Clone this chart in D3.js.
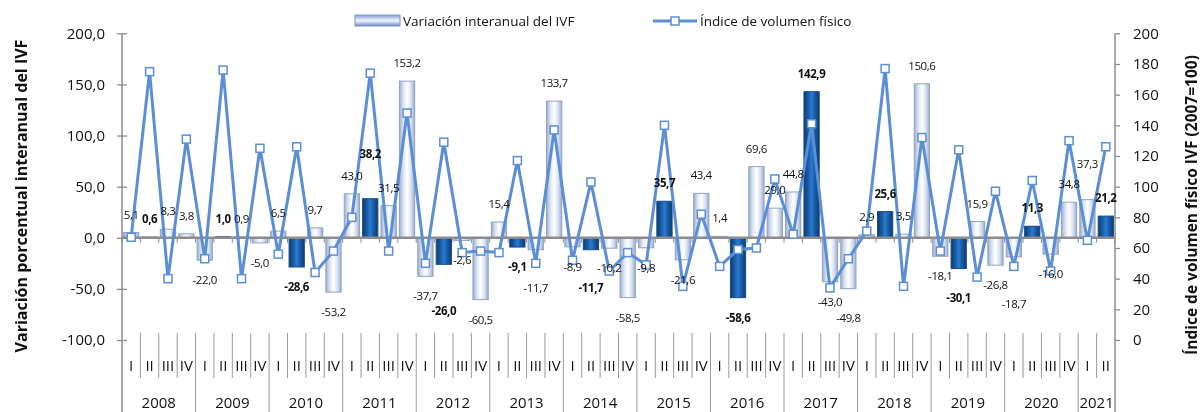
<!DOCTYPE html>
<html>
<head>
<meta charset="utf-8">
<script src="https://cdn.jsdelivr.net/npm/d3@7"></script>
<style>
  body { margin: 0; background: #fff; }
  svg { display: block; font-family: "Open Sans", sans-serif; opacity: 0.999; will-change: transform; }
</style>
</head>
<body>
<svg id="chart" width="1201" height="412"></svg>
<script>
const years = ['2008', '2009', '2010', '2011', '2012', '2013', '2014', '2015', '2016', '2017', '2018', '2019', '2020', '2021'];
const quarters = ['I', 'II', 'III', 'IV'];

// Variación interanual del IVF (%), 2008-I .. 2021-II
const variacion = [
  5.1, 0.6, 8.3, 3.8,
  -22.0, 1.0, 0.9, -5.0,
  6.5, -28.6, 9.7, -53.2,
  43.0, 38.2, 31.5, 153.2,
  -37.7, -26.0, -2.6, -60.5,
  15.4, -9.1, -11.7, 133.7,
  -8.9, -11.7, -10.2, -58.5,
  -9.8, 35.7, -21.6, 43.4,
  1.4, -58.6, 69.6, 29.0,
  44.8, 142.9, -43.0, -49.8,
  2.9, 25.6, 3.5, 150.6,
  -18.1, -30.1, 15.9, -26.8,
  -18.7, 11.3, -16.0, 34.8,
  37.3, 21.2
];

// Índice de volumen físico (2007=100)
const indice = [
  67, 175, 40, 131,
  53, 176, 40, 125,
  56, 126, 44, 58,
  80, 174, 58, 148,
  50, 129, 57, 58,
  57, 117, 50, 137,
  52, 103, 45, 57,
  49, 140, 35, 82,
  48, 59, 60, 105,
  69, 141, 34, 53,
  71, 177, 35, 132,
  58, 124, 41, 97,
  48, 104, 45, 130,
  65, 126
];

const leftTicks = [-100, -50, 0, 50, 100, 150, 200];
const rightTicks = [0, 20, 40, 60, 80, 100, 120, 140, 160, 180, 200];

const labels = variacion.map((v, i) => ({
  v, i,
  year: years[Math.floor(i / 4)],
  q: quarters[i % 4]
}));

const svg = d3.select('#chart');
const plotLeft = 122, plotRight = 1115, plotTop = 33.3, plotBottom = 340;

const locale = d3.formatLocale({ decimal: ',', thousands: '.', grouping: [3], currency: ['', ''], minus: '-' });
const fmt1 = locale.format('.1f');

const x = d3.scaleBand()
  .domain(d3.range(labels.length))
  .range([plotLeft, plotRight])
  .paddingInner(0.17)
  .paddingOuter(0.085);
const step = x.step();

const yLeft = d3.scaleLinear().domain([-100, 200]).range([plotBottom, plotTop]);
const yRight = d3.scaleLinear().domain([0, 200]).range([plotBottom, plotTop]);

const lineColor = '#5a8ed6';
const axisGray = '#8c8c8c';

// gradients for the bars
const defs = svg.append('defs');
function hGrad(id, stops, vertical) {
  const g = defs.append('linearGradient').attr('id', id)
    .attr('x1', '0%').attr('y1', '0%')
    .attr('x2', vertical ? '0%' : '100%').attr('y2', vertical ? '100%' : '0%');
  stops.forEach(s => g.append('stop').attr('offset', s[0]).attr('stop-color', s[1]));
}
hGrad('light', [['0%', '#9aacd0'], ['25%', '#dce3f0'], ['50%', '#ffffff'], ['75%', '#dce3f0'], ['100%', '#9aacd0']]);
hGrad('dark', [['0%', '#0f3a70'], ['30%', '#195ea9'], ['50%', '#2a7bd0'], ['70%', '#195ea9'], ['100%', '#0f3a70']]);
hGrad('legendBar', [['0%', '#7d9bd3'], ['45%', '#e9eef8'], ['55%', '#e9eef8'], ['100%', '#6f8fcb']], true);

// bars
svg.append('g')
  .selectAll('rect')
  .data(labels)
  .join('rect')
  .attr('x', d => x(d.i))
  .attr('width', x.bandwidth())
  .attr('y', d => yLeft(Math.max(0, d.v)))
  .attr('height', d => Math.abs(yLeft(d.v) - yLeft(0)))
  .attr('fill', d => d.i % 4 === 1 ? 'url(#dark)' : 'url(#light)')
  .attr('stroke', d => d.i % 4 === 1 ? '#1a4c8a' : '#8fa2c9')
  .attr('stroke-width', 1);

// zero line with small ticks at category boundaries
const y0 = yLeft(0);
svg.append('line')
  .attr('x1', plotLeft).attr('x2', plotRight)
  .attr('y1', y0).attr('y2', y0)
  .attr('stroke', axisGray).attr('stroke-width', 2.5);
svg.append('g')
  .selectAll('line')
  .data(d3.range(labels.length + 1))
  .join('line')
  .attr('x1', k => plotLeft + k * step).attr('x2', k => plotLeft + k * step)
  .attr('y1', y0).attr('y2', y0 + 5)
  .attr('stroke', axisGray).attr('stroke-width', 1);

// left axis
const leftAxis = svg.append('g')
  .attr('transform', `translate(${plotLeft},0)`)
  .call(d3.axisLeft(yLeft).tickValues(leftTicks).tickSize(5).tickPadding(12).tickFormat(fmt1));
leftAxis.select('.domain').remove();
leftAxis.selectAll('.tick line').attr('x2', 5).attr('x1', -5).attr('stroke', axisGray).attr('stroke-width', 1.3);
leftAxis.selectAll('.tick text').attr('font-size', 15).attr('fill', '#111').attr('font-family', 'Open Sans');

// right axis
const rightAxis = svg.append('g')
  .attr('transform', `translate(${plotRight},0)`)
  .call(d3.axisRight(yRight).tickValues(rightTicks).tickSize(5).tickPadding(13));
rightAxis.select('.domain').remove();
rightAxis.selectAll('.tick line').attr('stroke', axisGray).attr('stroke-width', 1.3);
rightAxis.selectAll('.tick text').attr('font-size', 15).attr('fill', '#111').attr('font-family', 'Open Sans');

// axis lines running down through the category area
[plotLeft, plotRight].forEach(px => {
  svg.append('line')
    .attr('x1', px).attr('x2', px)
    .attr('y1', plotTop).attr('y2', 412)
    .attr('stroke', axisGray).attr('stroke-width', 1.5);
});

// category area: quarter and year separators
const sepTop = 333, quarterSepBottom = 378;
svg.append('g')
  .selectAll('line')
  .data(d3.range(1, labels.length))
  .join('line')
  .attr('x1', k => plotLeft + k * step).attr('x2', k => plotLeft + k * step)
  .attr('y1', sepTop)
  .attr('y2', k => k % 4 === 0 ? 412 : quarterSepBottom)
  .attr('stroke', '#9a9a9a').attr('stroke-width', 1);

svg.append('g')
  .selectAll('text')
  .data(labels)
  .join('text')
  .attr('x', d => x(d.i) + x.bandwidth() / 2)
  .attr('y', 366)
  .attr('dy', '0.35em')
  .attr('text-anchor', 'middle')
  .attr('font-size', 15)
  .attr('fill', '#111')
  .text(d => d.q);

svg.append('g')
  .selectAll('text')
  .data(years)
  .join('text')
  .attr('x', (yr, j) => {
    const first = j * 4;
    const last = Math.min(first + 3, labels.length - 1);
    return (plotLeft + first * step + plotLeft + (last + 1) * step) / 2;
  })
  .attr('y', 403)
  .attr('dy', '0.35em')
  .attr('text-anchor', 'middle')
  .attr('font-size', 15)
  .attr('fill', '#111')
  .text(d => d);

// line series on right axis
const cx = i => x(i) + x.bandwidth() / 2;
svg.append('path')
  .datum(indice)
  .attr('fill', 'none')
  .attr('stroke', lineColor)
  .attr('stroke-width', 3)
  .attr('stroke-linejoin', 'round')
  .attr('d', d3.line().x((d, i) => cx(i)).y(d => yRight(d)));

svg.append('g')
  .selectAll('rect')
  .data(indice)
  .join('rect')
  .attr('x', (d, i) => cx(i) - 4)
  .attr('y', d => yRight(d) - 4)
  .attr('width', 8).attr('height', 8)
  .attr('fill', '#fff')
  .attr('stroke', lineColor)
  .attr('stroke-width', 1.5);

// data labels
const dataLabels = svg.append('g')
  .selectAll('text')
  .data(labels)
  .join('text')
  .attr('x', d => cx(d.i))
  .attr('y', d => d.v >= 0 ? yLeft(d.v) - 18 : yLeft(d.v) + 20)
  .attr('dy', '0.35em')
  .attr('text-anchor', 'middle')
  .attr('font-size', 11.5)
  .attr('letter-spacing', -0.4)
  .attr('font-weight', d => d.i % 4 === 1 ? 'bold' : 'normal')
  .attr('fill', '#111')
  .text(d => fmt1(d.v));

// push a label away from its bar when it collides with one already placed
const placed = [];
dataLabels.each(function (d) {
  const el = d3.select(this);
  let box = this.getBBox();
  let tries = 0;
  while (tries < 4 && placed.some(b => box.x < b.x + b.width && b.x < box.x + box.width &&
         box.y < b.y + b.height && b.y < box.y + box.height)) {
    el.attr('y', +el.attr('y') + (d.v >= 0 ? -9 : 9));
    box = this.getBBox();
    tries++;
  }
  placed.push(box);
});

// axis titles
svg.append('text')
  .attr('transform', 'translate(21,196) rotate(-90)')
  .attr('text-anchor', 'middle')
  .attr('dy', '0.35em')
  .attr('font-size', 16)
  .attr('font-weight', 'bold')
  .attr('fill', '#111')
  .text('Variación porcentual interanual del IVF');

svg.append('text')
  .attr('transform', 'translate(1192,205) rotate(-90)')
  .attr('text-anchor', 'middle')
  .attr('dy', '0.35em')
  .attr('font-size', 15.5)
  .attr('font-weight', 'bold')
  .attr('fill', '#111')
  .text('Índice de volumen físico IVF (2007=100)');

// legend
const legend = svg.append('g');
legend.append('rect')
  .attr('x', 355).attr('y', 15).attr('width', 45).attr('height', 11)
  .attr('fill', 'url(#legendBar)')
  .attr('stroke', '#7b97cc').attr('stroke-width', 1);
legend.append('text')
  .attr('x', 403).attr('y', 21).attr('dy', '0.35em')
  .attr('font-size', 13.5).attr('fill', '#111')
  .text('Variación interanual del IVF');

legend.append('line')
  .attr('x1', 653).attr('x2', 697).attr('y1', 21).attr('y2', 21)
  .attr('stroke', lineColor).attr('stroke-width', 3);
legend.append('rect')
  .attr('x', 671).attr('y', 17).attr('width', 8).attr('height', 8)
  .attr('fill', '#fff').attr('stroke', lineColor).attr('stroke-width', 1.5);
legend.append('text')
  .attr('x', 700).attr('y', 21).attr('dy', '0.35em')
  .attr('font-size', 13.5).attr('fill', '#111')
  .text('Índice de volumen físico');
</script>
</body>
</html>
